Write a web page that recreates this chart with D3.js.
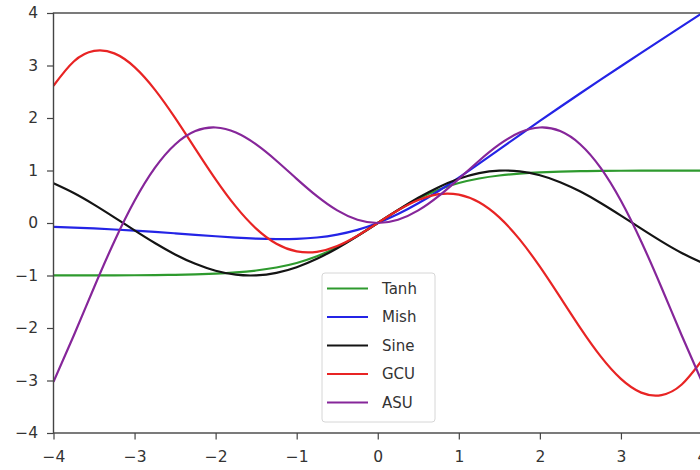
<!DOCTYPE html>
<html>
<head>
<meta charset="utf-8">
<script src="https://cdn.jsdelivr.net/npm/d3@7"></script>
<style>
  html, body { margin: 0; padding: 0; background: #fff; }
  svg { display: block; }
  .tick text { font-family: "DejaVu Sans", sans-serif; font-size: 15.5px; fill: #333; }
  .legend text { font-family: "DejaVu Sans", sans-serif; font-size: 15px; fill: #333; }
</style>
</head>
<body>
<svg id="chart" width="700" height="470"></svg>
<script>
// Sample positions shared by every series
const xs = [-4, -3.75, -3.5, -3.25, -3, -2.75, -2.5, -2.25, -2, -1.75, -1.5, -1.25, -1, -0.75, -0.5, -0.25,
            0, 0.25, 0.5, 0.75, 1, 1.25, 1.5, 1.75, 2, 2.25, 2.5, 2.75, 3, 3.25, 3.5, 3.75, 4];

const tanhValues = [-0.9993, -0.9989, -0.9982, -0.9970, -0.9951, -0.9919, -0.9866, -0.9780, -0.9640, -0.9414, -0.9052, -0.8483, -0.7616, -0.6352, -0.4621, -0.2449,
                    0, 0.2449, 0.4621, 0.6352, 0.7616, 0.8483, 0.9052, 0.9414, 0.9640, 0.9780, 0.9866, 0.9919, 0.9951, 0.9970, 0.9982, 0.9989, 0.9993];

const mishValues = [-0.0726, -0.0872, -0.1041, -0.1236, -0.1456, -0.1702, -0.1968, -0.2247, -0.2525, -0.2780, -0.2981, -0.3084, -0.3034, -0.2765, -0.2207, -0.1299,
                    0, 0.1696, 0.3752, 0.6100, 0.8651, 1.1319, 1.4034, 1.6749, 1.9440, 2.2095, 2.4714, 2.7302, 2.9865, 3.2410, 3.4940, 3.7460, 3.9974];

const sineValues = [0.7568, 0.5716, 0.3508, 0.1082, -0.1411, -0.3817, -0.5985, -0.7781, -0.9093, -0.9840, -0.9975, -0.9490, -0.8415, -0.6816, -0.4794, -0.2474,
                    0, 0.2474, 0.4794, 0.6816, 0.8415, 0.9490, 0.9975, 0.9840, 0.9093, 0.7781, 0.5985, 0.3817, 0.1411, -0.1082, -0.3508, -0.5716, -0.7568];

const gcuValues = [2.6146, 3.0771, 3.2776, 3.2309, 2.9700, 2.5418, 2.0029, 1.4134, 0.8323, 0.3119, -0.1061, -0.3942, -0.5403, -0.5488, -0.4388, -0.2422,
                   0, 0.2422, 0.4388, 0.5488, 0.5403, 0.3942, 0.1061, -0.3119, -0.8323, -1.4134, -2.0029, -2.5418, -2.9700, -3.2309, -3.2776, -3.0771, -2.6146];

const asuValues = [-3.0272, -2.1434, -1.2277, -0.3517, 0.4234, 1.0496, 1.4962, 1.7507, 1.8186, 1.7220, 1.4962, 1.1862, 0.8415, 0.5112, 0.2397, 0.0619,
                   0, 0.0619, 0.2397, 0.5112, 0.8415, 1.1862, 1.4962, 1.7220, 1.8186, 1.7507, 1.4962, 1.0496, 0.4234, -0.3517, -1.2277, -2.1434, -3.0272];

const seriesNames = ["Tanh", "Mish", "Sine", "GCU", "ASU"];
const seriesColors = ["#2e9a2e", "#2424e6", "#141414", "#e82424", "#86269a"];
const seriesValues = [tanhValues, mishValues, sineValues, gcuValues, asuValues];

const xTicks = [-4, -3, -2, -1, 0, 1, 2, 3, 4];
const yTicks = [-4, -3, -2, -1, 0, 1, 2, 3, 4];

const svg = d3.select("#chart");
const plotLeft = 53.5, plotRight = 702, plotTop = 13, plotBottom = 433;

const x = d3.scaleLinear().domain([-4, 4]).range([plotLeft, plotRight]);
const y = d3.scaleLinear().domain([-4, 4]).range([plotBottom, plotTop]);

// Clip region for the curves
svg.append("defs").append("clipPath").attr("id", "plot-clip")
  .append("rect").attr("x", plotLeft).attr("y", plotTop)
  .attr("width", plotRight - plotLeft).attr("height", plotBottom - plotTop);

const line = d3.line()
  .x((d, i) => x(xs[i]))
  .y(d => y(d))
  .curve(d3.curveNatural);

const curves = svg.append("g").attr("clip-path", "url(#plot-clip)");
seriesValues.forEach((vals, k) => {
  curves.append("path")
    .datum(vals)
    .attr("fill", "none")
    .attr("stroke", seriesColors[k])
    .attr("stroke-width", 2.2)
    .attr("stroke-linejoin", "round")
    .attr("d", line);
});

// Axes with outward ticks
const xAxis = svg.append("g")
  .attr("transform", `translate(0,${plotBottom})`)
  .call(d3.axisBottom(x).tickValues(xTicks).tickSize(6.5).tickPadding(11).tickFormat(d3.format("")));
const yAxis = svg.append("g")
  .attr("transform", `translate(${plotLeft},0)`)
  .call(d3.axisLeft(y).tickValues(yTicks).tickSize(6.5).tickPadding(9).tickFormat(d3.format("")));

[xAxis, yAxis].forEach(a => {
  a.select(".domain").remove();
  a.selectAll(".tick line").attr("stroke", "#444").attr("stroke-width", 1.2);
});

// Frame around the plot area
svg.append("rect")
  .attr("x", plotLeft).attr("y", plotTop)
  .attr("width", plotRight - plotLeft).attr("height", plotBottom - plotTop)
  .attr("fill", "none").attr("stroke", "#444").attr("stroke-width", 1.4);

// Legend
const legend = svg.append("g").attr("class", "legend");
const lx = 322, ly = 273, lw = 113, lh = 149, rowGap = 28.5;
legend.append("rect")
  .attr("x", lx).attr("y", ly).attr("width", lw).attr("height", lh)
  .attr("rx", 3).attr("fill", "rgba(255,255,255,0.85)")
  .attr("stroke", "#d6d6d6").attr("stroke-width", 1);

seriesNames.forEach((name, k) => {
  const cy = ly + 15.5 + k * rowGap;
  legend.append("line")
    .attr("x1", lx + 5).attr("x2", lx + 46)
    .attr("y1", cy).attr("y2", cy)
    .attr("stroke", seriesColors[k]).attr("stroke-width", 2.2);
  legend.append("text")
    .attr("x", lx + 60).attr("y", cy)
    .attr("dy", "0.36em")
    .text(name);
});
</script>
</body>
</html>
